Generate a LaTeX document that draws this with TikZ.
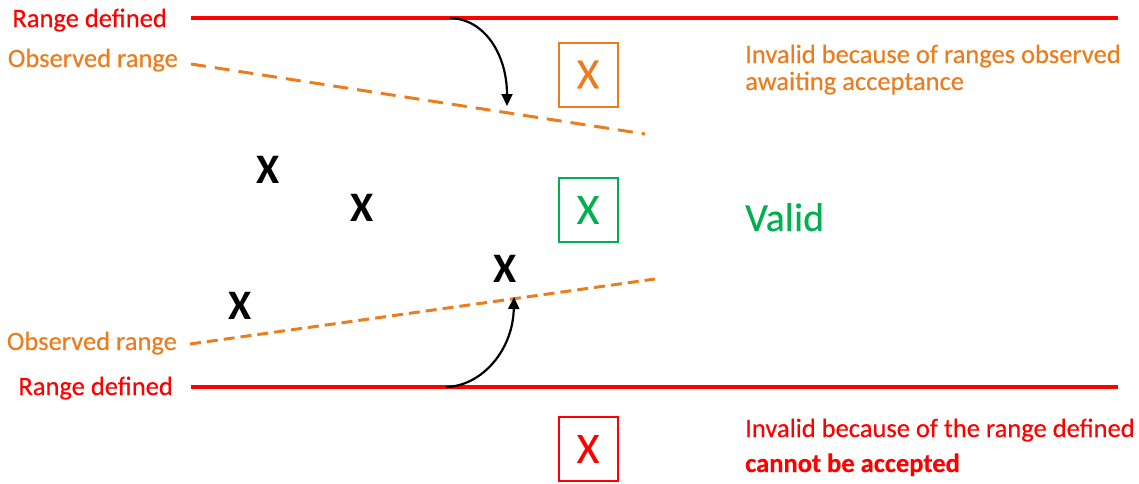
\documentclass[tikz,border=0pt]{standalone}
\usepackage{fontspec}
\setmainfont{Carlito}
\newfontfamily\heavyfont{Carlito}[FakeBold=0.35]
\usetikzlibrary{arrows.meta}
\definecolor{limitred}{RGB}{255,0,0}
\definecolor{obsorange}{RGB}{235,125,30}
\definecolor{okgreen}{RGB}{0,176,80}
\begin{document}
\begin{tikzpicture}[x=1pt,y=-1pt,
  sidetext/.style={inner sep=0pt, font=\heavyfont\fontsize{26.5}{27}\selectfont},
  bigx/.style={inner sep=0pt, font=\bfseries\fontsize{42}{42}\selectfont},
  markbox/.style={draw, line width=2pt, minimum width=59pt, minimum height=64pt,
                  inner sep=0pt, font=\heavyfont\fontsize{43}{43}\selectfont},
  limit/.style={draw=limitred, line width=3.5pt},
  observed/.style={draw=obsorange, line width=3pt},
  shift arrow/.style={-{Triangle[length=12pt,width=11pt]}, line width=2.2pt}]
\useasboundingbox (0,0) rectangle (1139,483);

% end points of the limit lines
\coordinate (deftopL) at (191,18);
\coordinate (deftopR) at (1118,18);
\coordinate (defbotL) at (191,387);
\coordinate (defbotR) at (1118,387);
\coordinate (obstopL) at (191,64);
\coordinate (obstopR) at (645,134);
\coordinate (obsbotL) at (190,344);
\coordinate (obsbotR) at (655,279);
\coordinate (pushdown) at (450,18);
\coordinate (pushdownend) at (507,106);
\coordinate (pushup) at (446,387);
\coordinate (pushupend) at (514,297);

% defined and observed ranges
\draw[limit] (deftopL) -- (deftopR);
\draw[limit] (defbotL) -- (defbotR);
\draw[observed, dash pattern=on 15pt off 9pt] (obstopL) -- (obstopR);
\draw[observed, dash pattern=on 11pt off 6pt] (obsbotL) -- (obsbotR);

% narrowing arrows
\draw[shift arrow] (pushdown) .. controls (485,19) and (507,55) .. (pushdownend);
\draw[shift arrow] (pushup) .. controls (482,386) and (513,350) .. (pushupend);

% line labels
\node[sidetext, text=limitred, anchor=base east] (deftoplabel) at (167,27) {Range defined};
\node[sidetext, text=obsorange, anchor=base east] (obstoplabel) at (178,67) {Observed range};
\node[sidetext, text=obsorange, anchor=base east] (obsbotlabel) at (177,350) {Observed range};
\node[sidetext, text=limitred, anchor=base east] (defbotlabel) at (173,395) {Range defined};

% sample points
\node[bigx] (pt1) at (268,170) {X};
\node[bigx] (pt2) at (362,208) {X};
\node[bigx] (pt3) at (240,306) {X};
\node[bigx] (pt4) at (505,269) {X};

% legend boxes
\node[markbox, draw=obsorange, text=obsorange] (obsbox) at (588,74.5) {X};
\node[markbox, draw=okgreen, text=okgreen] (okbox) at (588,210) {X};
\node[markbox, draw=limitred, text=limitred] (defbox) at (588,449) {X};

% legend texts
\node[sidetext, text=obsorange, anchor=base west] (obsnoteA) at (745,63) {Invalid because of ranges observed};
\node[sidetext, text=obsorange, anchor=base west] (obsnoteB) at (745,90) {awaiting acceptance};
\node[inner sep=0pt, font=\heavyfont\fontsize{40}{40}\selectfont, text=okgreen, anchor=base west] (oknote) at (745,231) {Valid};
\node[sidetext, text=limitred, anchor=base west] (defnoteA) at (745,437) {Invalid because of the range defined};
\node[sidetext, text=limitred, anchor=base west, font=\heavyfont\bfseries\fontsize{26.5}{27}\selectfont] (defnoteB) at (745,472) {cannot be accepted};
\end{tikzpicture}
\end{document}
